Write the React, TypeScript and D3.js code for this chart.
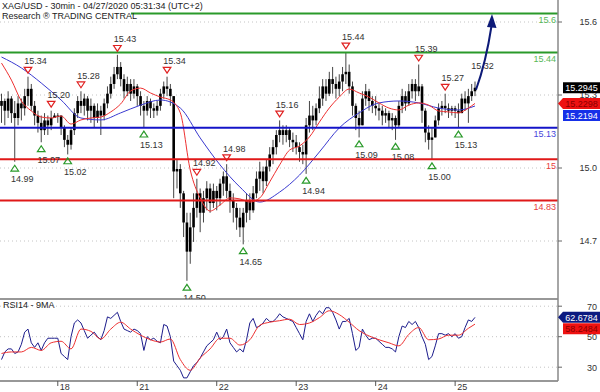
import React from "react";
import * as d3 from "d3";

const title = "XAG/USD - 30min - 04/27/2020 05:31:34 (UTC+2)";
const subtitle = "Research \u00AE TRADING CENTRAL";
const rsiTitle = "RSI14 - 9MA";

const firstOpen = 15.22;
const closes = [
  15.24, 15.2, 15.25, 15.19, 15.17, 15.23, 15.21, 15.26, 15.29, 15.22, 15.18, 15.15,
  15.12, 15.16, 15.14, 15.17, 15.18, 15.18, 15.13, 15.08, 15.06, 15.12, 15.19, 15.24,
  15.22, 15.25, 15.2, 15.22, 15.17, 15.2, 15.18, 15.23, 15.27, 15.31, 15.35, 15.38,
  15.33, 15.28, 15.31, 15.27, 15.3, 15.26, 15.22, 15.2, 15.24, 15.21, 15.2, 15.22,
  15.27, 15.3, 15.29, 15.26, 14.95, 14.96, 14.86, 14.74, 14.62, 14.72, 14.8, 14.86,
  14.78, 14.84, 14.88, 14.82, 14.87, 14.84, 14.9, 14.93, 14.87, 14.83, 14.8, 14.76,
  14.72, 14.78, 14.83, 14.79, 14.86, 14.92, 14.95, 14.91, 14.97, 15.02, 15.05, 15.1,
  15.12, 15.1, 15.12, 15.08, 15.07, 15.05, 15.03, 15.02, 15.14, 15.18, 15.16, 15.21,
  15.25, 15.3, 15.27, 15.33, 15.31, 15.29, 15.32, 15.35, 15.36, 15.3, 15.22, 15.17,
  15.14, 15.25, 15.28, 15.24, 15.22, 15.21, 15.2, 15.18, 15.19, 15.16, 15.17, 15.14,
  15.22, 15.26, 15.23, 15.28, 15.31, 15.28, 15.3, 15.2, 15.11, 15.08, 15.09, 15.16,
  15.21, 15.22, 15.21, 15.2, 15.21, 15.2, 15.19, 15.25, 15.23, 15.26, 15.28, 15.2945,
];
const highs = [
  15.27, 15.25, 15.28, 15.26, 15.24, 15.26, 15.25, 15.29, 15.34, 15.31, 15.24, 15.2,
  15.18, 15.19, 15.18, 15.2, 15.19, 15.19, 15.18, 15.14, 15.1, 15.13, 15.21, 15.26,
  15.28, 15.27, 15.26, 15.25, 15.23, 15.23, 15.22, 15.25, 15.3, 15.34, 15.38, 15.43,
  15.4, 15.35, 15.34, 15.33, 15.33, 15.31, 15.28, 15.24, 15.26, 15.25, 15.23, 15.24,
  15.29, 15.32, 15.34, 15.31, 15.26, 15.0, 14.98, 14.87, 14.78, 14.78, 14.86, 14.92,
  14.88, 14.87, 14.91, 14.9, 14.9, 14.89, 14.92, 14.95, 14.98, 14.9, 14.86, 14.82,
  14.8, 14.8, 14.86, 14.86, 14.89, 14.95, 14.99, 14.97, 15.0, 15.05, 15.08, 15.12,
  15.16, 15.14, 15.14, 15.13, 15.11, 15.1, 15.07, 15.06, 15.17, 15.24, 15.22, 15.23,
  15.3, 15.33, 15.33, 15.36, 15.38, 15.34, 15.35, 15.38, 15.44, 15.39, 15.32, 15.23,
  15.2, 15.28, 15.31, 15.29, 15.26, 15.26, 15.23, 15.22, 15.21, 15.2, 15.19, 15.18,
  15.24, 15.29, 15.28, 15.31, 15.33, 15.33, 15.39, 15.31, 15.21, 15.14, 15.13, 15.18,
  15.23, 15.24, 15.27, 15.23, 15.22, 15.22, 15.23, 15.27, 15.28, 15.29, 15.31, 15.32,
];
const lows = [
  15.15, 15.14, 15.17, 15.15, 14.99, 15.14, 15.16, 15.18, 15.22, 15.2, 15.14, 15.11,
  15.07, 15.1, 15.1, 15.12, 15.17, 15.15, 15.1, 15.05, 15.02, 15.04, 15.1, 15.17,
  15.19, 15.18, 15.16, 15.15, 15.13, 15.15, 15.1, 15.16, 15.21, 15.25, 15.29, 15.33,
  15.3, 15.25, 15.26, 15.24, 15.25, 15.22, 15.18, 15.13, 15.18, 15.17, 15.17, 15.18,
  15.2, 15.25, 15.26, 15.22, 14.84, 14.88, 14.8, 14.68, 14.5, 14.57, 14.66, 14.76,
  14.7, 14.74, 14.79, 14.78, 14.8, 14.79, 14.81, 14.85, 14.84, 14.78, 14.74, 14.71,
  14.68, 14.65, 14.74, 14.75, 14.78, 14.84, 14.87, 14.86, 14.89, 14.95, 14.98, 15.02,
  15.07, 15.06, 15.07, 15.05, 15.03, 15.02, 14.99, 14.98, 14.94, 15.11, 15.12, 15.14,
  15.19, 15.22, 15.24, 15.26, 15.27, 15.25, 15.26, 15.28, 15.31, 15.27, 15.18, 15.12,
  15.09, 15.14, 15.22, 15.2, 15.19, 15.18, 15.16, 15.14, 15.15, 15.13, 15.12, 15.08,
  15.13, 15.19, 15.2, 15.22, 15.25, 15.24, 15.26, 15.15, 15.07, 15.04, 15.0, 15.09,
  15.14, 15.18, 15.19, 15.17, 15.18, 15.17, 15.13, 15.19, 15.2, 15.15, 15.24, 15.26,
];

const blueMaIdx = [0, 6, 12, 18, 24, 30, 36, 42, 48, 54, 60, 66, 72, 78, 84, 90, 96, 102, 108, 114, 120, 126, 132, 138, 143];
const blueMa = [
  15.421, 15.376, 15.314, 15.244, 15.17, 15.162, 15.191, 15.223, 15.244, 15.211, 15.088, 14.977,
  14.886, 14.824, 14.865, 14.935, 15.03, 15.129, 15.191, 15.232, 15.24, 15.232, 15.211, 15.203, 15.2194,
];
const redMaIdx = [
  0, 3, 6, 9, 12, 15, 18, 21, 24, 27, 30, 33, 36, 39, 42, 45, 48, 51, 54, 57, 60, 63, 66, 69, 72,
  75, 78, 81, 84, 87, 90, 93, 96, 99, 102, 105, 108, 111, 114, 117, 120, 123, 126, 129, 132, 135, 138, 141, 143,
];
const redMa = [
  15.396, 15.326, 15.24, 15.199, 15.174, 15.17, 15.178, 15.145, 15.162, 15.17, 15.174, 15.195,
  15.228, 15.281, 15.293, 15.273, 15.256, 15.244, 15.191, 14.956, 14.841, 14.787, 14.812, 14.841,
  14.837, 14.824, 14.841, 14.907, 14.977, 15.038, 15.055, 15.092, 15.153, 15.211, 15.256, 15.289,
  15.273, 15.256, 15.232, 15.211, 15.203, 15.223, 15.232, 15.223, 15.199, 15.195, 15.191, 15.211, 15.2298,
];

const rsi = [
  35, 40, 42, 42, 39, 40, 45, 53, 55, 46, 43, 46,
  41, 46, 49, 49, 49, 49, 39, 37, 35, 50, 59, 61,
  59, 54, 49, 51, 53, 50, 48, 54, 63, 62, 64, 66,
  60, 55, 54, 53, 55, 54, 52, 41, 50, 48, 49, 47,
  46, 58, 57, 50, 34, 31, 28, 23, 23, 27, 31, 33,
  36, 40, 44, 46, 48, 53, 48, 50, 55, 46, 43, 40,
  42, 40, 48, 59, 62, 56, 57, 59, 62, 60, 60, 62,
  65, 63, 62, 61, 60, 56, 52, 48, 60, 65, 60, 64,
  67, 65, 69, 69, 66, 61, 55, 60, 60, 62, 52, 41,
  43, 55, 51, 48, 49, 49, 47, 45, 43, 43, 42, 40,
  50, 57, 56, 60, 58, 60, 56, 50, 45, 35, 37, 44,
  52, 52, 51, 52, 50, 52, 49, 50, 56, 61, 60, 62.6784,
];
const rsiMaIdx = redMaIdx;
const rsiMa = [
  39, 40, 40, 43, 41, 46, 47, 42, 55, 53.5, 48.5, 55, 59.5, 55, 51, 48, 46.5, 48.5, 35, 28, 36, 42,
  49, 49, 44.5, 48, 57.5, 59.5, 60.5, 61.5, 58, 59, 62.5, 67, 64.5, 59.5, 54, 50.5, 48, 46, 44, 51.5,
  56, 48, 48.5, 51, 51, 55.5, 58.2484,
];

const highMarkerIdx = [8, 15, 24, 35, 50, 59, 68, 84, 104, 126, 134];
const highMarkerVal = [15.34, 15.2, 15.28, 15.43, 15.34, 14.92, 14.98, 15.16, 15.44, 15.39, 15.27];
const highMarkerText = ["15.34", "15.20", "15.28", "15.43", "15.34", "14.92", "14.98", "15.16", "15.44", "15.39", "15.27"];
const lastHighIdx = 143;
const lastHighVal = 15.32;
const lastHighText = "15.32";
const lowMarkerIdx = [4, 12, 20, 43, 56, 73, 92, 108, 119, 130, 138];
const lowMarkerVal = [14.99, 15.07, 15.02, 15.13, 14.5, 14.65, 14.94, 15.09, 15.08, 15.0, 15.13];
const lowMarkerText = ["14.99", "15.07", "15.02", "15.13", "14.50", "14.65", "14.94", "15.09", "15.08", "15.00", "15.13"];

const levelValues = [15.6, 15.44, 15.13, 15.0, 14.83];
const levelLabels = ["15.6", "15.44", "15.13", "15", "14.83"];
const levelColors = ["#2a9a2a", "#2a9a2a", "#1414c8", "#e01818", "#e01818"];
const levelTextColors = ["#58b858", "#58b858", "#4646dc", "#e83c3c", "#e83c3c"];

const priceTicks = [15.6, 15.3, 15.0, 14.7];
const priceTickLabels = ["15.6", "15.3", "15.0", "14.7"];
const rsiTicks = [70, 50, 30];
const rsiTickLabels = ["70", "50", "30"];
const dayTickIdx = [17, 41, 65, 89, 113, 137];
const dayTickLabels = ["18", "21", "22", "23", "24", "25"];

const FONT = "'Liberation Sans', Arial, sans-serif";

export default function App() {
  const plotRight = 558;
  const x = d3.scaleLinear().domain([0, 143]).range([1.5, 475]);
  const yP = d3.scaleLinear().domain([15.6, 14.7]).range([13.5, 232.2]);
  const yPAxis = d3.scaleLinear().domain([15.6, 14.7]).range([22, 241]);
  const yR = d3.scaleLinear().domain([70, 30]).range([306.2, 367.2]);

  const priceLine = d3
    .line<[number, number]>()
    .x((d) => x(d[0]))
    .y((d) => yP(d[1]))
    .curve(d3.curveMonotoneX);
  const rsiLine = d3
    .line<[number, number]>()
    .x((d) => x(d[0]))
    .y((d) => yR(d[1]))
    .curve(d3.curveMonotoneX);
  const rsiRaw = d3
    .line<number>()
    .x((_, i) => x(i))
    .y((d) => yR(d));

  const bluePath = priceLine(blueMaIdx.map((i, k) => [i, blueMa[k]]) as [number, number][]) || "";
  const redPath = priceLine(redMaIdx.map((i, k) => [i, redMa[k]]) as [number, number][]) || "";
  const rsiPath = rsiRaw(rsi) || "";
  const rsiMaPath = rsiLine(rsiMaIdx.map((i, k) => [i, rsiMa[k]]) as [number, number][]) || "";

  const last = closes.length - 1;
  const stack = (items: any[], gap: number) => {
    for (let k = 1; k < items.length; k++) {
      if (items[k].y - items[k - 1].y < gap) items[k].y = items[k - 1].y + gap;
    }
    return items;
  };
  const priceBoxes = stack(
    [
      { y: yP(closes[last]), fill: "#000", text: closes[last].toFixed(4), color: "#fff", pointer: false },
      { y: yP(redMa[redMa.length - 1]), fill: "#ee1111", text: redMa[redMa.length - 1].toFixed(4), color: "#8a0000", pointer: true },
      { y: yP(blueMa[blueMa.length - 1]), fill: "#1630e8", text: blueMa[blueMa.length - 1].toFixed(4), color: "#fff", pointer: false },
    ],
    12
  );
  const rsiBoxes = stack(
    [
      { y: yR(rsi[last]), fill: "#0c1a80", text: rsi[last].toFixed(4), color: "#fff", pointer: true },
      { y: yR(rsiMa[rsiMa.length - 1]), fill: "#ee1111", text: rsiMa[rsiMa.length - 1].toFixed(4), color: "#8a0000", pointer: false },
    ],
    11.5
  );

  const renderBox = (b: any, k: number) => {
    const h = 11;
    const x0 = 563;
    const x1 = 600;
    const pts = b.pointer
      ? `${558},${b.y} ${x0},${b.y - h / 2} ${x1},${b.y - h / 2} ${x1},${b.y + h / 2} ${x0},${b.y + h / 2}`
      : `${x0},${b.y - h / 2} ${x1},${b.y - h / 2} ${x1},${b.y + h / 2} ${x0},${b.y + h / 2}`;
    return (
      <g key={k}>
        <polygon points={pts} fill={b.fill} />
        <text x={(x0 + x1) / 2} y={b.y + 3.3} fontSize={9} fill={b.color} textAnchor="middle">
          {b.text}
        </text>
      </g>
    );
  };

  const arrowStart: [number, number] = [x(last) + 1, yP(closes[last]) + 2];
  const arrowTip: [number, number] = [492, 14];

  return (
    <svg
      width={600}
      height={392}
      style={{ position: "absolute", left: 0, top: 0, fontFamily: FONT, background: "#fff" }}
    >
      <rect x={0} y={0} width={600} height={392} fill="#fff" />

      {priceTicks.map((t, k) => (
        <line key={k} x1={0} x2={plotRight} y1={yPAxis(t)} y2={yPAxis(t)} stroke="#c4c4c4" strokeDasharray="1 3" />
      ))}

      {closes.map((c, i) => {
        const o = i === 0 ? firstOpen : closes[i - 1];
        const top = yP(Math.max(o, c));
        const bot = yP(Math.min(o, c));
        return (
          <g key={i}>
            <line x1={x(i)} x2={x(i)} y1={yP(highs[i])} y2={yP(lows[i])} stroke="#444" strokeWidth={1} />
            <rect x={x(i) - 1.3} y={top} width={2.6} height={Math.max(1.2, bot - top)} fill="#000" />
          </g>
        );
      })}

      <path d={bluePath} fill="none" stroke="#3a3ad0" strokeWidth={1} />
      <path d={redPath} fill="none" stroke="#ee3030" strokeWidth={1} />

      {levelValues.map((v, k) => (
        <g key={k}>
          <line x1={0} x2={plotRight} y1={yP(v)} y2={yP(v)} stroke={levelColors[k]} strokeWidth={2} />
          <text x={556} y={yP(v) + 9.5} fontSize={9} fill={levelTextColors[k]} textAnchor="end">
            {levelLabels[k]}
          </text>
        </g>
      ))}

      {highMarkerIdx.map((i, k) => {
        const cx = x(i);
        const cy = yP(highMarkerVal[k]) - 6.5;
        return (
          <g key={k}>
            <path d={`M${cx - 3.8},${cy - 2.8}L${cx + 3.8},${cy - 2.8}L${cx},${cy + 3}Z`} fill="none" stroke="#e02020" strokeWidth={1.2} />
            <text x={cx + 7.5} y={cy - 6} fontSize={9} fill="#333" textAnchor="middle">
              {highMarkerText[k]}
            </text>
          </g>
        );
      })}
      <text x={x(lastHighIdx) + 7.5} y={yP(lastHighVal) - 12.5} fontSize={9} fill="#333" textAnchor="middle">
        {lastHighText}
      </text>

      {lowMarkerIdx.map((i, k) => {
        const cx = x(i);
        const cy = yP(lowMarkerVal[k]) + 6.5;
        return (
          <g key={k}>
            <path d={`M${cx - 3.8},${cy + 2.8}L${cx + 3.8},${cy + 2.8}L${cx},${cy - 3}Z`} fill="none" stroke="#2a9a2a" strokeWidth={1.2} />
            <text x={cx + 7.5} y={cy + 14} fontSize={9} fill="#333" textAnchor="middle">
              {lowMarkerText[k]}
            </text>
          </g>
        );
      })}

      <path
        d={`M${arrowStart[0]},${arrowStart[1]} Q${486},${62} ${arrowTip[0] - 0.5},${arrowTip[1] + 12}`}
        fill="none"
        stroke="#0d1a78"
        strokeWidth={2}
      />
      <path
        d={`M${arrowTip[0]},${arrowTip[1]} L${arrowTip[0] + 4.5},${arrowTip[1] + 14} L${arrowTip[0] - 5},${arrowTip[1] + 13} Z`}
        fill="#0d1a78"
      />

      <rect x={0} y={0} width={131} height={21} fill="#fff" />
      <text x={2} y={9} fontSize={9} fill="#222">
        {title}
      </text>
      <text x={2} y={19} fontSize={9} fill="#222">
        {subtitle}
      </text>

      <rect x={0} y={299} width={plotRight} height={82} fill="#fff" />
      {rsiTicks.map((t, k) => (
        <line key={k} x1={0} x2={plotRight} y1={yR(t)} y2={yR(t)} stroke="#c4c4c4" strokeDasharray="1 3" />
      ))}
      <path d={rsiPath} fill="none" stroke="#1c1c8c" strokeWidth={1} />
      <path d={rsiMaPath} fill="none" stroke="#ee3030" strokeWidth={1} />
      <line x1={0} x2={plotRight} y1={299} y2={299} stroke="#333" strokeWidth={1.2} />
      <line x1={0} x2={plotRight} y1={381} y2={381} stroke="#333" strokeWidth={1.2} />
      <text x={3} y={308} fontSize={9} fill="#222">
        {rsiTitle}
      </text>

      <line x1={plotRight} x2={plotRight} y1={0} y2={381} stroke="#888" strokeWidth={1.5} />
      {priceTicks.map((t, k) => (
        <g key={k}>
          <line x1={plotRight} x2={plotRight + 4} y1={yPAxis(t)} y2={yPAxis(t)} stroke="#666" />
          <text x={597} y={yPAxis(t) + 3.3} fontSize={9} fill="#333" textAnchor="end">
            {priceTickLabels[k]}
          </text>
        </g>
      ))}
      {rsiTicks.map((t, k) => (
        <g key={k}>
          <line x1={plotRight} x2={plotRight + 4} y1={yR(t)} y2={yR(t)} stroke="#666" />
          <text x={597} y={yR(t) + 3.3} fontSize={9} fill="#333" textAnchor="end">
            {rsiTickLabels[k]}
          </text>
        </g>
      ))}
      {priceBoxes.map(renderBox)}
      {rsiBoxes.map(renderBox)}

      {dayTickIdx.map((i, k) => (
        <g key={k}>
          <line x1={x(i)} x2={x(i)} y1={381} y2={386} stroke="#555" />
          <text x={x(i) + 2} y={390} fontSize={9} fill="#333">
            {dayTickLabels[k]}
          </text>
        </g>
      ))}
    </svg>
  );
}
